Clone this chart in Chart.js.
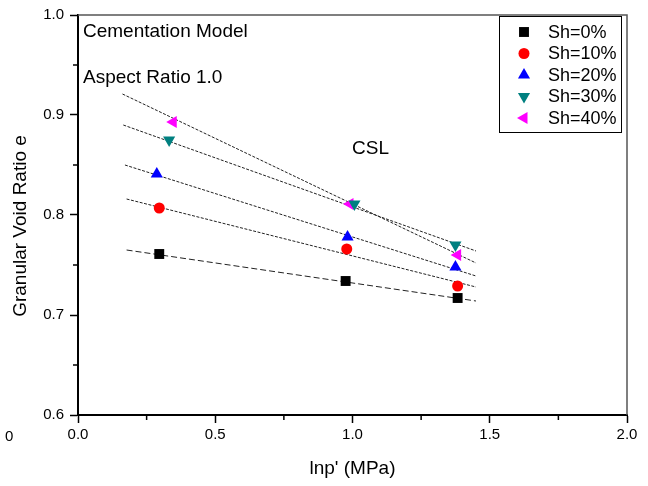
<!DOCTYPE html>
<html lang="en">
<head>
    <meta charset="UTF-8">
    <title>Granular Void Ratio vs lnp'</title>
    <style>
        body {
            margin: 0;
            background-color: #fff;
        }
        #csl {
            display: block;
        }
    </style>
    <script src="https://cdn.jsdelivr.net/npm/chart.js"></script>
</head>
<body>
    <canvas id="csl" width="648" height="486"></canvas>

    <script>
        // values
        const seriesNames = ['Sh=0%', 'Sh=10%', 'Sh=20%', 'Sh=30%', 'Sh=40%'];
        const seriesColors = ['#000000', '#ff0000', '#0000ff', '#008080', '#ff00ff'];

        const sh0X = [0.296, 0.975, 1.383];
        const sh0Y = [0.761, 0.734, 0.717];
        const sh10X = [0.296, 0.979, 1.383];
        const sh10Y = [0.807, 0.766, 0.729];
        const sh20X = [0.287, 0.982, 1.375];
        const sh20Y = [0.841, 0.778, 0.748];
        const sh30X = [0.332, 1.007, 1.375];
        const sh30Y = [0.875, 0.811, 0.770];
        const sh40X = [0.347, 0.991, 1.383];
        const sh40Y = [0.893, 0.811, 0.760];

        // CSL fit lines: start / end of each line
        const fitStartX = [0.177, 0.177, 0.171, 0.165, 0.162];
        const fitStartY = [0.765, 0.816, 0.850, 0.890, 0.921];
        const fitEndX = [1.45, 1.45, 1.45, 1.45, 1.45];
        const fitEndY = [0.714, 0.728, 0.739, 0.764, 0.752];

        const xTicks = [0.0, 0.5, 1.0, 1.5, 2.0];
        const xMinorTicks = [0.25, 0.75, 1.25, 1.75];
        const yTicks = [0.6, 0.7, 0.8, 0.9, 1.0];
        const yMinorTicks = [0.65, 0.75, 0.85, 0.95];

        const pointStyles = ['rect', 'circle', 'triangle', 'triangle', 'triangle'];
        const pointRotations = [0, 0, 0, 180, -90];
        const pointRadii = [7, 5.5, 7, 7, 7];

        const allX = [sh0X, sh10X, sh20X, sh30X, sh40X];
        const allY = [sh0Y, sh10Y, sh20Y, sh30Y, sh40Y];

        const FONT = "'Liberation Sans', Arial, sans-serif";
        Chart.defaults.font.family = FONT;
        Chart.defaults.color = '#000';

        const pointSets = seriesNames.map((name, i) => ({
            label: name,
            data: allX[i].map((x, j) => ({ x: x, y: allY[i][j] })),
            backgroundColor: seriesColors[i],
            borderColor: seriesColors[i],
            borderWidth: 0,
            pointStyle: pointStyles[i],
            rotation: pointRotations[i],
            pointRadius: pointRadii[i],
            showLine: false
        }));

        const fitSets = seriesNames.map((name, i) => ({
            label: name + ' CSL',
            data: [
                { x: fitStartX[i], y: fitStartY[i] },
                { x: fitEndX[i], y: fitEndY[i] }
            ],
            borderColor: '#222',
            borderWidth: 1,
            borderDash: i === 0 ? [6, 3] : [3, 1.5],
            pointRadius: 0,
            showLine: true,
            fill: false
        }));

        // frame, minor ticks, text labels and boxed legend inside the plot
        const extras = {
            id: 'extras',
            afterDraw(chart) {
                const ctx = chart.ctx;
                const area = chart.chartArea;
                const xs = chart.scales.x;
                const ys = chart.scales.y;
                ctx.save();

                // thin top and right frame
                ctx.strokeStyle = '#555';
                ctx.lineWidth = 1.5;
                ctx.beginPath();
                ctx.moveTo(area.left, area.top);
                ctx.lineTo(area.right, area.top);
                ctx.lineTo(area.right, area.bottom);
                ctx.stroke();

                // minor ticks
                ctx.strokeStyle = '#000';
                ctx.lineWidth = 1.5;
                ctx.beginPath();
                xMinorTicks.forEach(v => {
                    const px = xs.getPixelForValue(v);
                    ctx.moveTo(px, area.bottom);
                    ctx.lineTo(px, area.bottom + 5);
                });
                yMinorTicks.forEach(v => {
                    const py = ys.getPixelForValue(v);
                    ctx.moveTo(area.left, py);
                    ctx.lineTo(area.left - 5, py);
                });
                ctx.stroke();

                // y axis title (sits a bit below the middle in the original)
                ctx.fillStyle = '#000';
                ctx.font = '19px ' + FONT;
                ctx.save();
                ctx.translate(21, 226);
                ctx.rotate(-Math.PI / 2);
                ctx.textAlign = 'center';
                ctx.textBaseline = 'middle';
                ctx.fillText('Granular Void Ratio e', 0, 0);
                ctx.restore();

                // annotations
                ctx.textAlign = 'left';
                ctx.textBaseline = 'alphabetic';
                ctx.fillText('Cementation Model', 83, 37);
                ctx.fillText('Aspect Ratio 1.0', 83, 83);
                ctx.fillText('CSL', 352, 154);

                // stray label at the left edge
                ctx.font = '15px ' + FONT;
                ctx.textBaseline = 'middle';
                ctx.fillText('0', 5, 437);

                // legend box
                ctx.lineWidth = 1;
                ctx.strokeStyle = '#000';
                ctx.strokeRect(499.5, 16.5, 122, 116);
                ctx.font = '18px ' + FONT;
                seriesNames.forEach((name, i) => {
                    const y = 32 + i * 21.5;
                    ctx.fillStyle = seriesColors[i];
                    Chart.helpers.drawPoint(ctx, {
                        pointStyle: pointStyles[i],
                        rotation: pointRotations[i],
                        radius: pointRadii[i],
                        borderWidth: 0
                    }, 524, y);
                    ctx.fillStyle = '#000';
                    ctx.fillText(name, 548, y + 1);
                });

                ctx.restore();
            }
        };

        new Chart(document.getElementById('csl'), {
            type: 'scatter',
            data: { datasets: pointSets.concat(fitSets) },
            options: {
                responsive: false,
                animation: false,
                devicePixelRatio: 1,
                layout: { padding: { left: 0, right: 21, top: 11, bottom: 0 } },
                plugins: {
                    legend: { display: false },
                    tooltip: { enabled: false }
                },
                scales: {
                    x: {
                        type: 'linear',
                        min: 0,
                        max: 2,
                        afterFit(scale) { scale.height = 71; },
                        afterBuildTicks(scale) {
                            scale.ticks = xTicks.map(v => ({ value: v }));
                        },
                        ticks: {
                            padding: 3,
                            font: { size: 15 },
                            callback: v => v.toFixed(1)
                        },
                        grid: {
                            drawOnChartArea: false,
                            drawTicks: true,
                            tickLength: 8,
                            tickWidth: 1.5,
                            tickColor: '#000'
                        },
                        border: { display: true, color: '#000', width: 2 },
                        title: {
                            display: true,
                            text: "lnp' (MPa)",
                            font: { size: 19 },
                            padding: { top: 0, bottom: 6 }
                        }
                    },
                    y: {
                        type: 'linear',
                        min: 0.6,
                        max: 1.0,
                        afterFit(scale) { scale.width = 78; },
                        afterBuildTicks(scale) {
                            scale.ticks = yTicks.map(v => ({ value: v }));
                        },
                        ticks: {
                            padding: 6,
                            font: { size: 15 },
                            callback: v => v.toFixed(1)
                        },
                        grid: {
                            drawOnChartArea: false,
                            drawTicks: true,
                            tickLength: 8,
                            tickWidth: 1.5,
                            tickColor: '#000'
                        },
                        border: { display: true, color: '#000', width: 2 },
                        title: { display: false }
                    }
                }
            },
            plugins: [extras]
        });
    </script>
</body>
</html>
